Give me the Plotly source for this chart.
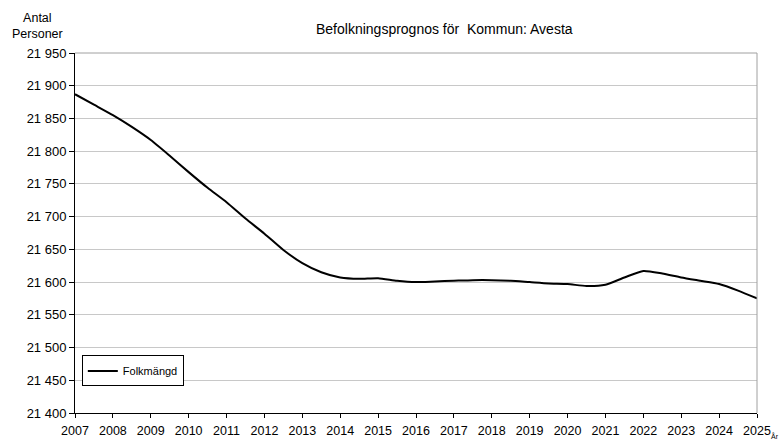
import plotly.graph_objects as go

years = [2007, 2007.5, 2008, 2008.5, 2009, 2009.5, 2010, 2010.5, 2011, 2011.5,
         2012, 2012.5, 2013, 2013.5, 2014, 2014.5, 2015, 2015.5, 2016, 2016.5,
         2017, 2017.5, 2018, 2018.5, 2019, 2019.5, 2020, 2020.5, 2021, 2021.5,
         2022, 2022.5, 2023, 2023.5, 2024, 2024.5, 2025]
folkmangd = [21887, 21871, 21855, 21837, 21817, 21793, 21768, 21744, 21722, 21697,
             21674, 21649, 21629, 21615, 21607, 21605, 21606, 21602, 21600, 21601,
             21602, 21603, 21603, 21602, 21600, 21598, 21597, 21594, 21596, 21607,
             21617, 21613, 21607, 21602, 21597, 21587, 21575]
tick_years = list(range(2007, 2026))
y_ticks = list(range(21400, 21951, 50))
y_labels = [f"{v // 1000} {v % 1000:03d}" for v in y_ticks]

FONT = "Liberation Sans, Arial, sans-serif"

fig = go.Figure()
fig.add_trace(go.Scatter(
    x=years, y=folkmangd, mode="lines", name="Folkmängd",
    line=dict(color="black", width=2, shape="spline", smoothing=0.6),
))

fig.update_layout(
    width=783, height=441,
    margin=dict(l=75, r=26, t=53, b=28),
    paper_bgcolor="white", plot_bgcolor="white",
    font=dict(family=FONT, size=13, color="black"),
    showlegend=True,
    legend=dict(x=0.01, y=0.16, xanchor="left", yanchor="top",
                bgcolor="white", bordercolor="black", borderwidth=1,
                font=dict(size=11), itemwidth=30,
                tracegroupgap=0),
    xaxis=dict(range=[2007, 2025], tickmode="array", tickvals=tick_years,
               ticktext=[str(y) for y in tick_years],
               tickfont=dict(size=12.5), ticklabelstandoff=2,
               showgrid=False, zeroline=False, automargin=False,
               showline=True, linecolor="black", linewidth=1,
               ticks="outside", ticklen=4, tickcolor="black"),
    yaxis=dict(range=[21400, 21950], tickmode="array", tickvals=y_ticks,
               ticktext=y_labels, automargin=False,
               showgrid=True, gridcolor="#c8c8c8", gridwidth=1,
               zeroline=False,
               showline=True, linecolor="black", linewidth=1,
               ticks="outside", ticklen=5, tickcolor="black"),
    shapes=[
        dict(type="line", xref="paper", yref="paper", x0=1, x1=1, y0=0, y1=1,
             line=dict(color="#a0a0a0", width=1)),
        dict(type="line", xref="paper", yref="paper", x0=0, x1=1, y0=1, y1=1,
             line=dict(color="#a0a0a0", width=1)),
    ],
    annotations=[
        dict(text="Befolkningsprognos för  Kommun: Avesta", xref="paper", yref="paper",
             x=0.5, y=1, xanchor="center", yanchor="bottom", xshift=28, yshift=14,
             showarrow=False, font=dict(size=14)),
        dict(text="Antal<br>Personer", xref="paper", yref="paper",
             x=0, y=1, xanchor="center", yanchor="bottom", xshift=-38, yshift=10,
             showarrow=False, font=dict(size=12.5)),
        dict(text="År", xref="paper", yref="paper",
             x=1, y=0, xanchor="left", yanchor="top", xshift=12, yshift=-17,
             showarrow=False, font=dict(size=7)),
    ],
)

fig.write_html("out.html", config={"displayModeBar": False},
               post_script="document.body.style.margin='0';")
